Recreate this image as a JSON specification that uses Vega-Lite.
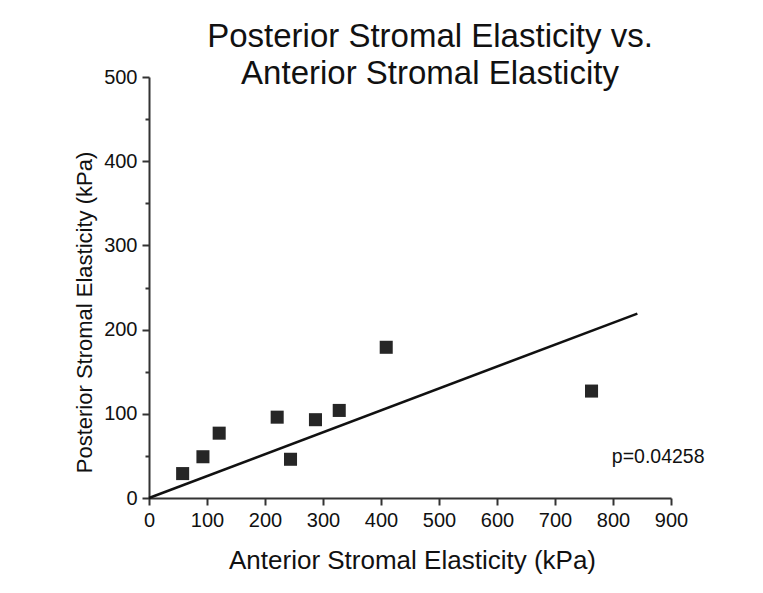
{
  "$schema": "https://vega.github.io/schema/vega-lite/v6.json",
  "width": 522,
  "height": 421,
  "autosize": {"type": "none"},
  "padding": {"left": 149, "top": 77, "right": 92, "bottom": 95},
  "background": "white",
  "title": {
    "text": ["Posterior Stromal Elasticity vs.", "Anterior Stromal Elasticity"],
    "font": "Liberation Sans",
    "fontSize": 33,
    "fontWeight": "normal",
    "color": "#111",
    "anchor": "middle",
    "frame": "group",
    "dx": 20,
    "lineHeight": 37,
    "offset": -24
  },
  "config": {
    "view": {"stroke": null},
    "font": "Liberation Sans",
    "axis": {
      "grid": false,
      "domainColor": "#333",
      "domainWidth": 2,
      "tickColor": "#333",
      "tickWidth": 2,
      "labelFont": "Liberation Sans",
      "labelFontSize": 20,
      "labelColor": "#111",
      "titleFont": "Liberation Sans",
      "titleFontWeight": "normal",
      "titleColor": "#111"
    }
  },
  "datasets": {
    "points": [
      {"anterior": 58, "posterior": 29},
      {"anterior": 93, "posterior": 49},
      {"anterior": 121, "posterior": 77},
      {"anterior": 221, "posterior": 96},
      {"anterior": 244, "posterior": 46},
      {"anterior": 287, "posterior": 93},
      {"anterior": 328, "posterior": 104},
      {"anterior": 409, "posterior": 179},
      {"anterior": 763, "posterior": 127}
    ],
    "fit": [
      {"anterior": 0, "posterior": 0},
      {"anterior": 842, "posterior": 219}
    ]
  },
  "layer": [
    {
      "data": {"name": "fit"},
      "mark": {"type": "line", "color": "#111", "strokeWidth": 2.5, "clip": false},
      "encoding": {
        "x": {
          "field": "anterior", "type": "quantitative",
          "scale": {"domain": [0, 900], "nice": false, "zero": false},
          "axis": {
            "title": "Anterior Stromal Elasticity (kPa)",
            "titleFontSize": 26,
            "titleX": 263,
            "titleY": 62,
            "titleBaseline": "middle",
            "values": [0, 50, 100, 150, 200, 250, 300, 350, 400, 450, 500, 550, 600, 650, 700, 750, 800, 850, 900],
            "labelExpr": "datum.value % 100 === 0 ? datum.label : ''",
            "tickSize": {"expr": "datum.value % 100 === 0 ? 7 : 4"},
            "labelPadding": 5,
            "labelFlush": false,
            "labelOverlap": false
          }
        },
        "y": {
          "field": "posterior", "type": "quantitative",
          "scale": {"domain": [0, 500], "nice": false, "zero": false},
          "axis": {
            "title": "Posterior Stromal Elasticity (kPa)",
            "titleFontSize": 22,
            "titleAngle": 270,
            "titleX": -65,
            "titleY": 235,
            "titleAlign": "center",
            "titleBaseline": "middle",
            "values": [0, 50, 100, 150, 200, 250, 300, 350, 400, 450, 500],
            "labelExpr": "datum.value % 100 === 0 ? datum.label : ''",
            "tickSize": {"expr": "datum.value % 100 === 0 ? 7 : 4"},
            "labelPadding": 5,
            "labelFlush": false,
            "labelOverlap": false
          }
        }
      }
    },
    {
      "data": {"name": "points"},
      "mark": {"type": "square", "color": "#262626", "opacity": 1, "size": 170},
      "encoding": {
        "x": {"field": "anterior", "type": "quantitative"},
        "y": {"field": "posterior", "type": "quantitative"}
      }
    },
    {
      "data": {"values": [{"label": "p=0.04258"}]},
      "mark": {"type": "text", "align": "left", "baseline": "middle", "fontSize": 19.5, "color": "#111", "font": "Liberation Sans", "clip": false},
      "encoding": {
        "x": {"datum": 798, "type": "quantitative"},
        "y": {"datum": 49, "type": "quantitative"},
        "text": {"field": "label"}
      }
    }
  ]
}
